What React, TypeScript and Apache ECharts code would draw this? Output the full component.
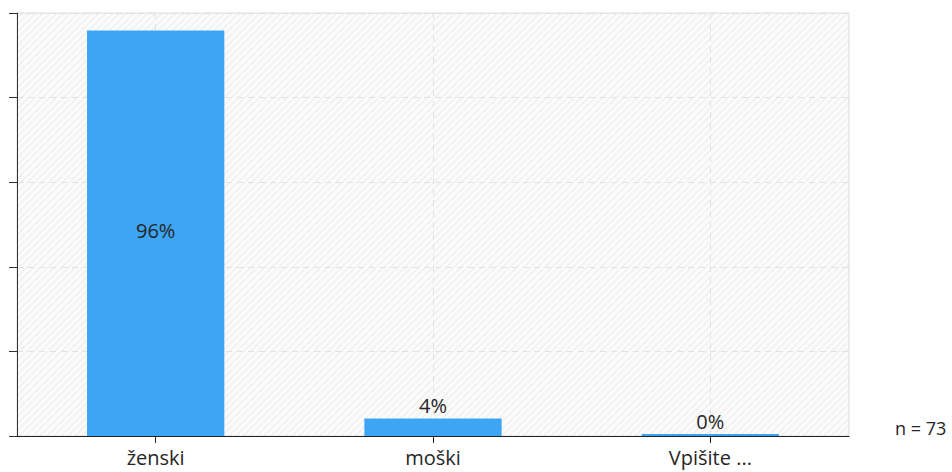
import React, { useEffect, useRef } from "react";
import * as echarts from "echarts";

const categories = ["ženski", "moški", "Vpišite ..."];
const counts = [70, 3, 0];
const total = 73;
const labelPositions = ["inside", "top", "top"];
const yTicks = [0, 20, 40, 60, 80, 100];
const nLabel = "n = 73";

function makeHatch(): any {
  const size = 7;
  const c = document.createElement("canvas");
  c.width = size;
  c.height = size;
  const ctx = c.getContext("2d");
  if (!ctx) return "#f9f9f9";
  ctx.fillStyle = "#fbfbfb";
  ctx.fillRect(0, 0, size, size);
  ctx.strokeStyle = "#efefef";
  ctx.lineWidth = 1.4;
  ctx.beginPath();
  ctx.moveTo(-1, size + 1);
  ctx.lineTo(size + 1, -1);
  ctx.moveTo(-1, 1);
  ctx.lineTo(1, -1);
  ctx.moveTo(size - 1, size + 1);
  ctx.lineTo(size + 1, size - 1);
  ctx.stroke();
  return { image: c, repeat: "repeat" };
}

export default function App() {
  const ref = useRef<HTMLDivElement>(null);
  useEffect(() => {
    if (!ref.current) return;
    const chart = echarts.init(ref.current, null, { renderer: "svg" });
    const font = "'Open Sans', 'Noto Sans', sans-serif";
    const textColor = "#262626";
    chart.setOption({
      animation: false,
      textStyle: { fontFamily: font },
      grid: {
        left: 17,
        top: 13,
        right: 103,
        bottom: 36,
        show: true,
        borderColor: "#dddddd",
        borderWidth: 1,
        backgroundColor: makeHatch(),
      },
      xAxis: {
        type: "category",
        data: categories,
        axisLine: { show: true, lineStyle: { color: "#222", width: 1 } },
        axisTick: { show: true, alignWithLabel: true, length: 7, lineStyle: { color: "#222" } },
        axisLabel: { color: textColor, fontSize: 20, fontFamily: font, margin: 11 },
        splitLine: {
          show: true,
          alignWithLabel: true,
          lineStyle: { color: "#e2e2e2", type: [6, 5], width: 1 },
        },
      },
      yAxis: {
        type: "value",
        min: yTicks[0],
        max: yTicks[yTicks.length - 1],
        interval: yTicks[1] - yTicks[0],
        axisLine: { show: true, lineStyle: { color: "#333", width: 1 } },
        axisTick: { show: true, inside: false, length: 8, lineStyle: { color: "#333" } },
        axisLabel: { show: false },
        splitLine: { show: true, lineStyle: { color: "#e2e2e2", type: [6, 5], width: 1 } },
      },
      series: [
        {
          type: "bar",
          barWidth: "49.5%",
          barMinHeight: 2,
          itemStyle: { color: "#3da5f4" },
          data: counts.map((v, i) => ({
            value: (v / total) * 100,
            label: {
              position: labelPositions[i],
              offset: labelPositions[i] === "inside" ? [0, -3] : [0, 0],
            },
          })),
          label: {
            show: true,
            formatter: (p: any) => Math.round(p.value) + "%",
            color: textColor,
            fontSize: 20,
            fontFamily: font,
            distance: 3,
          },
        },
      ],
      graphic: [
        {
          type: "text",
          left: 895,
          top: 419,
          style: { text: nLabel, fill: textColor, fontSize: 18, fontFamily: font },
        },
      ],
    });
    return () => chart.dispose();
  }, []);
  return <div ref={ref} style={{ width: 952, height: 472, position: "absolute", left: 0, top: 0 }} />;
}
